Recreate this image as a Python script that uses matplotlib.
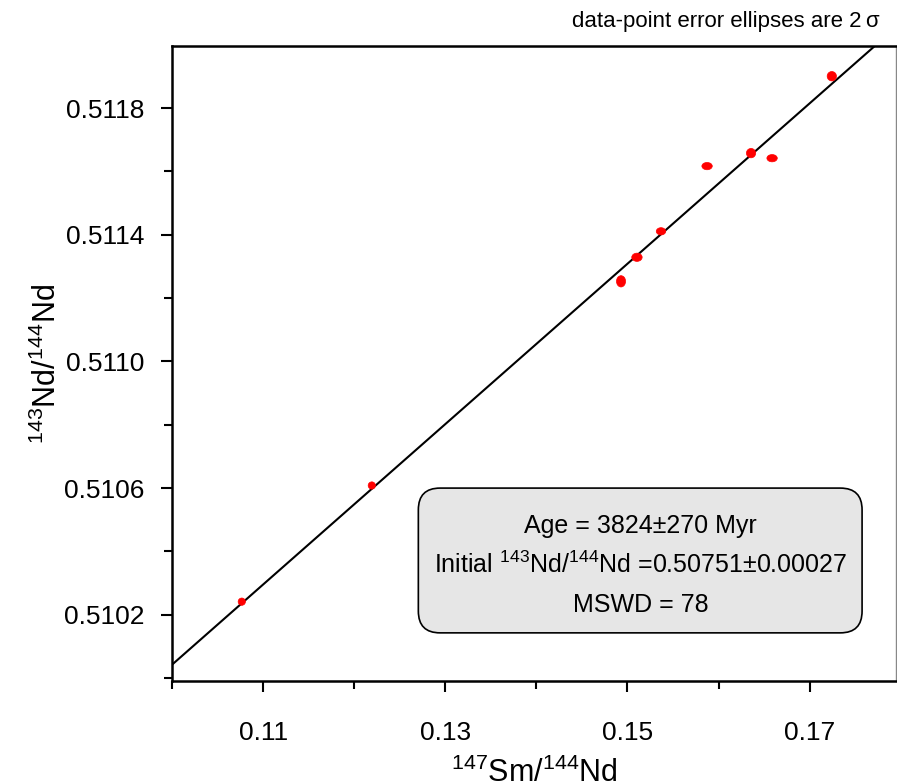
import numpy as np
import matplotlib
matplotlib.use('Agg')
import matplotlib.pyplot as plt
from matplotlib.patches import Ellipse, FancyBboxPatch
from matplotlib.ticker import MultipleLocator, FormatStrFormatter

plt.rcParams['font.family'] = ['Liberation Sans', 'DejaVu Sans']
plt.rcParams['mathtext.fontset'] = 'custom'
plt.rcParams['mathtext.rm'] = 'Liberation Sans'
plt.rcParams['mathtext.it'] = 'Liberation Sans:italic'

# 147Sm/144Nd and 143Nd/144Nd, with 2-sigma half-axes of the error ellipses
sm_nd = [0.10764, 0.12192, 0.14929, 0.15104, 0.15368, 0.15874, 0.16357, 0.16588, 0.17244]
nd_nd = [0.510241, 0.510608, 0.511253, 0.511329, 0.511411, 0.511617, 0.511658, 0.511642, 0.511901]
sm_err = [0.00040, 0.00040, 0.00050, 0.00057, 0.00052, 0.00057, 0.00051, 0.00057, 0.00051]
nd_err = [0.0000115, 0.0000115, 0.0000178, 0.0000130, 0.0000115, 0.0000115, 0.0000148, 0.0000115, 0.0000148]

age_myr = 3824
age_err = 270
initial = 0.50751
initial_err = 0.00027
mswd = 78
lam = 6.54e-12  # 147Sm decay constant, 1/yr

fig = plt.figure(figsize=(8.97, 7.82), dpi=100)
ax = fig.add_axes([0.192, 0.129, 0.807, 0.812])

xlim = (0.10, 0.1795)
ylim = (0.50999, 0.511996)
ax.set_xlim(xlim)
ax.set_ylim(ylim)

# isochron
slope = np.exp(lam * age_myr * 1e6) - 1
xx = np.array(xlim)
ax.plot(xx, initial + slope * xx, color='black', lw=1.5, zorder=2)

for x, y, ex, ey in zip(sm_nd, nd_nd, sm_err, nd_err):
    ax.add_patch(Ellipse((x, y), 2 * ex, 2 * ey, facecolor='red', edgecolor='red',
                         lw=0.5, zorder=3))

ax.xaxis.set_minor_locator(MultipleLocator(0.01))
ax.set_xticks([0.11, 0.13, 0.15, 0.17])
ax.xaxis.set_major_formatter(FormatStrFormatter('%.2f'))
ax.set_yticks([0.5102, 0.5106, 0.5110, 0.5114, 0.5118])
ax.yaxis.set_minor_locator(MultipleLocator(0.0002))
ax.yaxis.set_major_formatter(FormatStrFormatter('%.4f'))

ax.tick_params(which='both', direction='out', width=1.5, labelsize=19, color='black')
ax.tick_params(which='major', length=8)
ax.tick_params(which='minor', length=6)
ax.tick_params(axis='x', pad=21)
ax.tick_params(axis='y', pad=12)

for side in ['left', 'bottom', 'top']:
    ax.spines[side].set_linewidth(1.8)
ax.spines['right'].set_linewidth(1.0)
ax.spines['right'].set_color('#888888')

ax.set_xlabel(r'$^{147}$Sm/$^{144}$Nd', fontsize=22, labelpad=9)
ax.set_ylabel(r'$^{143}$Nd/$^{144}$Nd', fontsize=22, labelpad=1)

fig.text(0.981, 0.972, 'data-point error ellipses are 2\u2009\u03c3', ha='right', va='center',
         fontsize=16)

box = FancyBboxPatch((0.340, 0.076), 0.613, 0.228, boxstyle='round,pad=0,rounding_size=0.03',
                     transform=ax.transAxes, facecolor='#e6e6e6', edgecolor='black',
                     lw=1.2, zorder=4, mutation_aspect=724 / 635)
ax.add_patch(box)
lines = [
    'Age = %d\u00b1%d Myr' % (age_myr, age_err),
    'Initial $^{143}$Nd/$^{144}$Nd =%.5f\u00b1%.5f' % (initial, initial_err),
    'MSWD = %d' % mswd,
]
for i, s in enumerate(lines):
    ax.text(0.647, 0.245 - i * 0.0625, s, transform=ax.transAxes, ha='center', va='center',
            fontsize=18, zorder=5)

fig.savefig('out.png', dpi=100)
